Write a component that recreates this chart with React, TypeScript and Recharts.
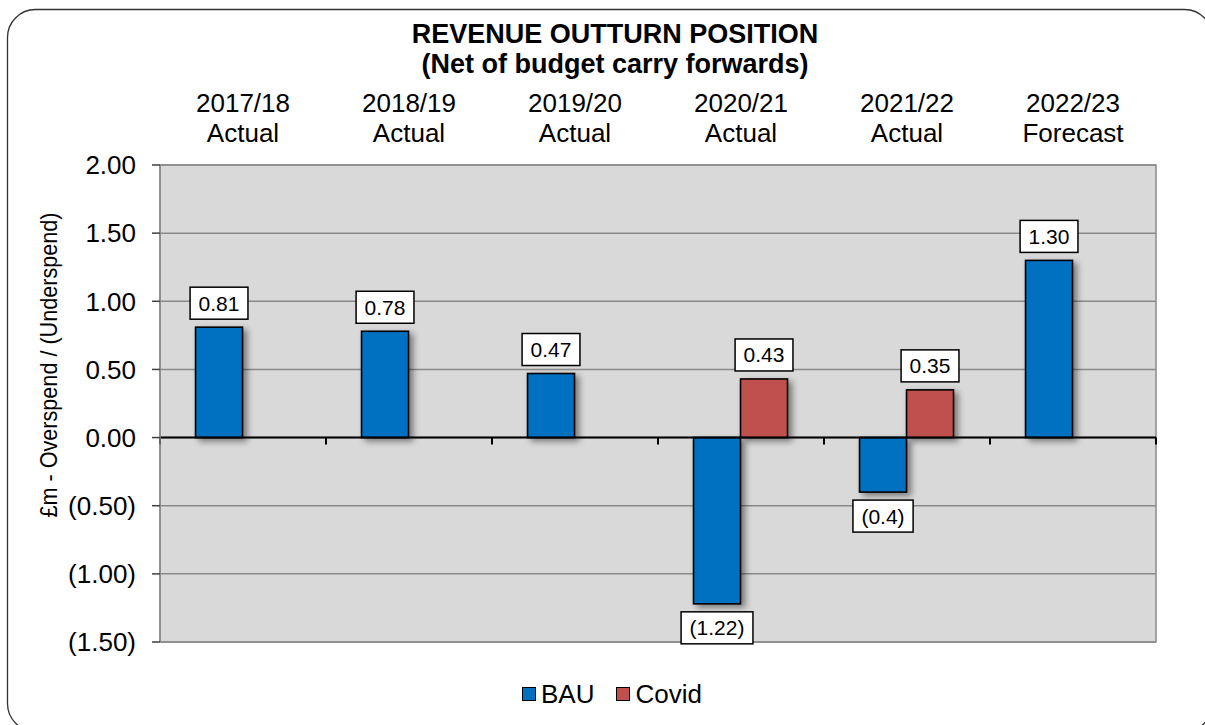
import React from 'react';
import {
  BarChart,
  Bar,
  XAxis,
  YAxis,
  CartesianGrid,
  ReferenceLine,
  ReferenceArea,
  LabelList,
  Legend,
} from 'recharts';

const years = ['2017/18', '2018/19', '2019/20', '2020/21', '2021/22', '2022/23'];
const statuses = ['Actual', 'Actual', 'Actual', 'Actual', 'Actual', 'Forecast'];
const bauValues = [0.81, 0.78, 0.47, -1.22, -0.4, 1.3];
const covidValues: (number | null)[] = [null, null, null, 0.43, 0.35, null];
const bauLabels = ['0.81', '0.78', '0.47', '(1.22)', '(0.4)', '1.30'];
const covidLabels: (string | null)[] = [null, null, null, '0.43', '0.35', null];
const yTicks = [-1.5, -1, -0.5, 0, 0.5, 1, 1.5, 2];

const seriesNames = ['BAU', 'Covid'];
const seriesColors = ['#0070c0', '#c0504d'];

const data = years.map((y, i) => ({
  year: y,
  status: statuses[i],
  bau: bauValues[i],
  covid: covidValues[i],
  bauLabel: bauLabels[i],
  covidLabel: covidLabels[i],
}));

const FONT = '"Liberation Sans", Arial, Helvetica, sans-serif';

const fmtTick = (v: number) => (v < 0 ? `(${Math.abs(v).toFixed(2)})` : v.toFixed(2));

const charW: Record<string, number> = { '(': 0.333, ')': 0.333, '.': 0.278 };
const textWidth = (s: string, size: number) =>
  s.split('').reduce((a, c) => a + (charW[c] ?? 0.556), 0) * size;

const CatTick = (props: any) => {
  const { x, y, index } = props;
  return (
    <text x={x} y={y} textAnchor="middle" fontSize={26} fill="#000" fontFamily={FONT}>
      <tspan x={x} y={y - 53}>{years[index]}</tspan>
      <tspan x={x} y={y - 23}>{statuses[index]}</tspan>
    </text>
  );
};

const ShadowBar = (props: any) => {
  const { x, y, width, height, fill } = props;
  if (height == null || !isFinite(height) || Math.abs(height) < 0.5) return null;
  const top = Math.min(y, y + height);
  const h = Math.abs(height);
  return (
    <rect
      x={x}
      y={top}
      width={width}
      height={h}
      fill={fill}
      stroke="#000"
      strokeWidth={1.6}
      style={{ filter: 'drop-shadow(4px 3px 3px rgba(0,0,0,0.45))' }}
    />
  );
};

const BoxLabel = (props: any) => {
  const { x, y, width, height, value } = props;
  if (value == null || value === '' || x == null || y == null) return null;
  const text = String(value);
  const negative = text.startsWith('(');
  const top = Math.min(y, y + height);
  const bottom = Math.max(y, y + height);
  const cx = x + width / 2;
  const fs = 21;
  const bw = textWidth(text, fs) + 17;
  const bh = 32;
  const by = negative ? bottom + 8 : top - 8 - bh;
  return (
    <g>
      <rect x={cx - bw / 2} y={by} width={bw} height={bh} fill="#fff" stroke="#000" strokeWidth={1.5} />
      <text x={cx} y={by + bh / 2 + 7.5} textAnchor="middle" fontSize={fs} fill="#000" fontFamily={FONT}>
        {text}
      </text>
    </g>
  );
};

const ZeroAxis = (p: any) => {
  const { x1, y1, x2 } = p;
  const n = years.length;
  const step = (x2 - x1) / n;
  return (
    <g>
      <line x1={x1} x2={x2} y1={y1} y2={y1} stroke="#000" strokeWidth={2} />
      {Array.from({ length: n + 1 }, (_, i) => (
        <line key={i} x1={x1 + i * step} x2={x1 + i * step} y1={y1} y2={y1 + 7} stroke="#000" strokeWidth={2} />
      ))}
    </g>
  );
};

const LegendContent = () => (
  <div style={{ display: 'flex', alignItems: 'center', fontFamily: FONT, fontSize: 26, color: '#000', lineHeight: '30px' }}>
    {seriesNames.map((n, i) => (
      <div key={n} style={{ display: 'flex', alignItems: 'center', marginRight: i === 0 ? 22 : 0 }}>
        <span
          style={{
            display: 'inline-block',
            width: 12,
            height: 12,
            background: seriesColors[i],
            border: '1.5px solid #000',
            marginRight: 5,
          }}
        />
        <span>{n}</span>
      </div>
    ))}
  </div>
);

export default function App() {
  return (
    <div style={{ position: 'relative', width: 1205, height: 725, fontFamily: FONT, background: '#fff', overflow: 'hidden' }}>
      <style>{'body{margin:0;}'}</style>
      <BarChart
        width={1205}
        height={725}
        data={data}
        margin={{ top: 105, right: 49, bottom: 83, left: 60 }}
        barCategoryGap="21.4%"
        barGap={0}
      >
        <CartesianGrid vertical={false} stroke="#8a8a8a" strokeWidth={1.5} fill="#d9d9d9" fillOpacity={1} />
        <XAxis
          dataKey="year"
          orientation="top"
          height={60}
          axisLine={false}
          tickLine={false}
          tickSize={0}
          tickMargin={0}
          interval={0}
          tick={<CatTick />}
        />
        <YAxis
          domain={[-1.5, 2]}
          ticks={yTicks}
          width={100}
          interval={0}
          tickFormatter={fmtTick}
          axisLine={{ stroke: '#8a8a8a', strokeWidth: 1.5 }}
          tickLine={{ stroke: '#404040', strokeWidth: 1.5 }}
          tickSize={8}
          tickMargin={16}
          tick={{ fontSize: 26, fill: '#000', fontFamily: FONT }}
        />
        <ReferenceArea y1={-1.5} y2={2} fill="none" stroke="#8a8a8a" strokeWidth={1.5} ifOverflow="visible" />
        <Bar dataKey="bau" name="BAU" fill={seriesColors[0]} shape={<ShadowBar />} isAnimationActive={false}>
          <LabelList dataKey="bauLabel" content={<BoxLabel />} />
        </Bar>
        <Bar dataKey="covid" name="Covid" fill={seriesColors[1]} shape={<ShadowBar />} isAnimationActive={false}>
          <LabelList dataKey="covidLabel" content={<BoxLabel />} />
        </Bar>
        <ReferenceLine y={0} shape={ZeroAxis} ifOverflow="visible" />
        <Legend
          layout="horizontal"
          verticalAlign="middle"
          align="center"
          wrapperStyle={{ top: 679, left: 522, width: 'auto' }}
          content={<LegendContent />}
        />
      </BarChart>
      <svg
        width={1205}
        height={725}
        style={{ position: 'absolute', left: 0, top: 0, pointerEvents: 'none' }}
      >
        <rect x={7.5} y={9.5} width={1205} height={722} rx={28} ry={28} fill="none" stroke="#333" strokeWidth={1.3} />
        <text x={615} y={43} textAnchor="middle" fontSize={27} fontWeight="bold" fill="#000" fontFamily={FONT}>
          REVENUE OUTTURN POSITION
        </text>
        <text x={615} y={73} textAnchor="middle" fontSize={27} fontWeight="bold" fill="#000" fontFamily={FONT}>
          (Net of budget carry forwards)
        </text>
        <text
          transform="translate(57,365) rotate(-90)"
          textAnchor="middle"
          fontSize={24}
          fill="#000"
          fontFamily={FONT}
          textLength={305}
          lengthAdjust="spacingAndGlyphs"
        >
          £m - Overspend / (Underspend)
        </text>
      </svg>
    </div>
  );
}
